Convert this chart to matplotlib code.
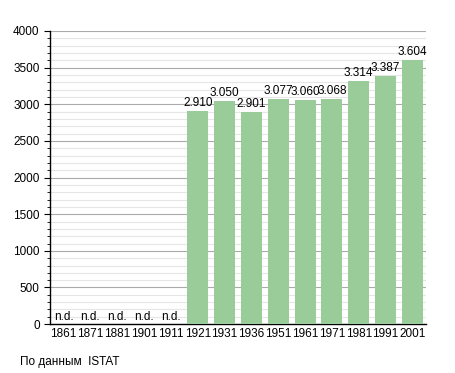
import numpy as np
import matplotlib.pyplot as plt
from matplotlib.ticker import MultipleLocator

plt.rcParams['font.family'] = ['Liberation Sans', 'DejaVu Sans']

years = ['1861', '1871', '1881', '1901', '1911', '1921', '1931', '1936',
         '1951', '1961', '1971', '1981', '1991', '2001']
population = [None, None, None, None, None, 2910, 3050, 2901,
              3077, 3060, 3068, 3314, 3387, 3604]

fig = plt.figure(figsize=(4.55, 3.73), dpi=100)
ax = fig.add_axes([0.110, 0.131, 0.826, 0.786])

x = np.arange(len(years))
vals = [v if v is not None else 0 for v in population]
ax.bar(x, vals, width=0.78, color='#99cc99', zorder=3)

for i, v in enumerate(population):
    if v is None:
        ax.text(i, 20, 'n.d.', ha='center', va='bottom', fontsize=8.5, zorder=4)
    else:
        lab = '{:,}'.format(v).replace(',', '.')
        ax.text(i, v + 25, lab, ha='center', va='bottom', fontsize=8.5, zorder=4)

ax.set_xlim(-0.5, len(years) - 0.5)
ax.set_ylim(0, 4000)
ax.set_xticks(x)
ax.set_xticklabels(years, fontsize=8.5)
ax.yaxis.set_major_locator(MultipleLocator(500))
ax.yaxis.set_minor_locator(MultipleLocator(100))
ax.tick_params(axis='y', labelsize=8.5, length=4, width=0.8)
ax.tick_params(axis='y', which='minor', length=2, width=0.6)
ax.tick_params(axis='x', length=0, pad=3)
ax.grid(axis='y', which='major', color='#aaaaaa', lw=0.8, zorder=0)
ax.grid(axis='y', which='minor', color='#e6e6e6', lw=0.8, zorder=0)
for s in ['top', 'right']:
    ax.spines[s].set_visible(False)
ax.spines['left'].set_linewidth(1)
ax.spines['bottom'].set_linewidth(1)

fig.text(20 / 455, 1 - 362 / 373, 'По данным  ISTAT', fontsize=8.5, va='center')

fig.savefig('out.png', dpi=100)
